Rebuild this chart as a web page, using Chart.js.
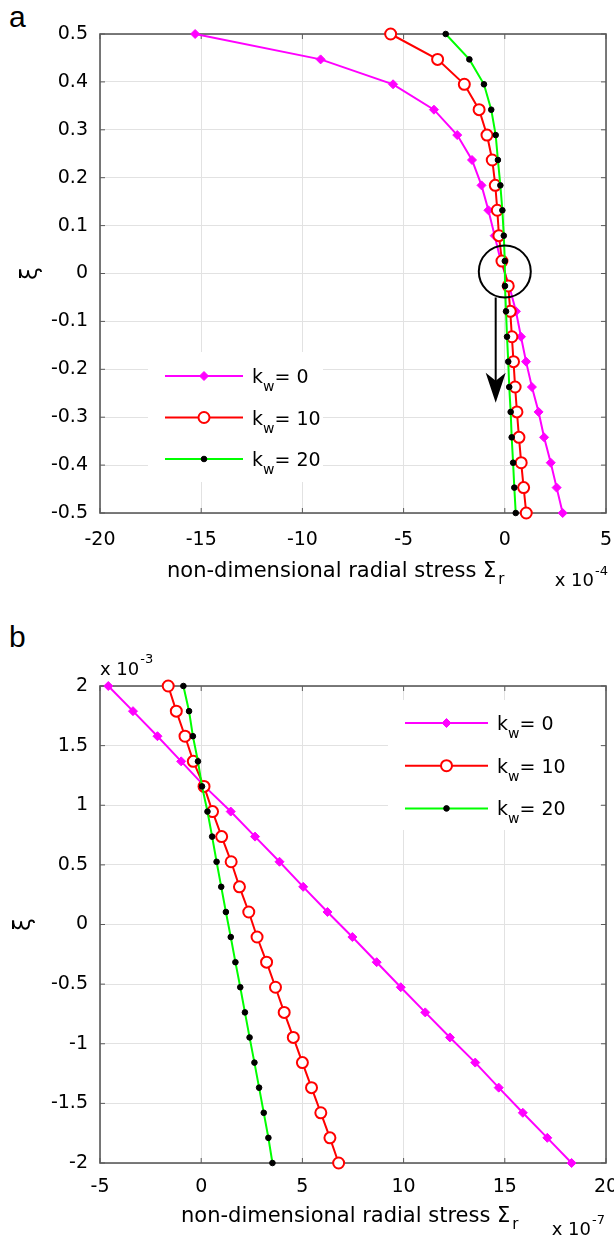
<!DOCTYPE html>
<html>
<head>
<meta charset="utf-8">
<script src="https://cdn.jsdelivr.net/npm/chart.js@4.4.1/dist/chart.umd.min.js"></script>
<style>
body { margin: 0; background: #fff; width: 614px; height: 1238px; position: relative; overflow: hidden; }
.panneau { position: absolute; left: 0; width: 614px; }
#boiteA { top: 0; height: 600px; }
#boiteB { top: 600px; height: 638px; }
.lettre { position: absolute; left: 9px; font: 30px "Liberation Sans", Arial, sans-serif; line-height: 30px; color: #000; }
</style>
</head>
<body>
<div class="lettre" style="top:2px">a</div>
<div class="lettre" style="top:622px">b</div>
<div class="panneau" id="boiteA"><canvas id="chartA"></canvas></div>
<div class="panneau" id="boiteB"><canvas id="chartB"></canvas></div>
<script>
// ---------- données ----------
// panneau a : rayon xi, contrainte radiale (x 10^-4)
var xiA = [0.5, 0.447, 0.395, 0.342, 0.289, 0.237, 0.184, 0.132, 0.079, 0.026,
           -0.026, -0.079, -0.132, -0.184, -0.237, -0.289, -0.342, -0.395, -0.447, -0.5];
var kw0A = [-15.3, -9.1, -5.52, -3.5, -2.35, -1.62, -1.15, -0.81, -0.5, -0.2,
            0.22, 0.55, 0.8, 1.05, 1.34, 1.67, 1.94, 2.27, 2.56, 2.86];
var kw10A = [-5.64, -3.32, -2.0, -1.27, -0.88, -0.62, -0.47, -0.37, -0.29, -0.14,
             0.17, 0.27, 0.35, 0.43, 0.51, 0.6, 0.7, 0.81, 0.93, 1.06];
var kw20A = [-2.92, -1.75, -1.03, -0.67, -0.45, -0.34, -0.22, -0.12, -0.05, 0.0,
             0.01, 0.06, 0.11, 0.17, 0.22, 0.29, 0.34, 0.41, 0.47, 0.54];
var xTicksA = [-20, -15, -10, -5, 0, 5];
var yTicksA = [-0.5, -0.4, -0.3, -0.2, -0.1, 0, 0.1, 0.2, 0.3, 0.4, 0.5];

// panneau b : xi (x 10^-3), contrainte radiale (x 10^-7)
var xiB = [2, 1.789, 1.579, 1.368, 1.158, 0.947, 0.737, 0.526, 0.316, 0.105,
           -0.105, -0.316, -0.526, -0.737, -0.947, -1.158, -1.368, -1.579, -1.789, -2];
var kw0B = [-4.59, -3.37, -2.16, -0.99, 0.17, 1.46, 2.66, 3.87, 5.04, 6.24,
            7.47, 8.67, 9.86, 11.07, 12.29, 13.54, 14.7, 15.89, 17.1, 18.3];
var kw10B = [-1.63, -1.23, -0.8, -0.39, 0.14, 0.56, 1.01, 1.48, 1.89, 2.35,
             2.76, 3.23, 3.67, 4.1, 4.55, 5.0, 5.45, 5.91, 6.36, 6.79];
var kw20B = [-0.88, -0.6, -0.41, -0.16, 0.04, 0.31, 0.54, 0.76, 0.99, 1.22,
             1.46, 1.69, 1.93, 2.16, 2.39, 2.63, 2.86, 3.09, 3.32, 3.52];
var xTicksB = [-5, 0, 5, 10, 15, 20];
var yTicksB = [-2, -1.5, -1, -0.5, 0, 0.5, 1, 1.5, 2];

var kwValeurs = ["0", "10", "20"];

var POLICE = '"DejaVu Sans", sans-serif';

function points(xs, ys) {
    return ys.map(function (y, i) { return { x: xs[i], y: y }; });
}

// styles des trois courbes (k_w = 0, 10, 20)
function series(s0, s10, s20, xi) {
    return [
        { label: kwValeurs[0], data: points(s0, xi), borderColor: "#ff00ff", borderWidth: 2,
          pointStyle: "rectRot", pointRadius: 4.5, pointBackgroundColor: "#ff00ff",
          pointBorderColor: "#ff00ff", pointBorderWidth: 1, order: 2 },
        { label: kwValeurs[1], data: points(s10, xi), borderColor: "#ff0000", borderWidth: 2,
          pointStyle: "circle", pointRadius: 5.5, pointBackgroundColor: "#ffffff",
          pointBorderColor: "#ff0000", pointBorderWidth: 2, order: 1 },
        { label: kwValeurs[2], data: points(s20, xi), borderColor: "#00ff00", borderWidth: 2,
          pointStyle: "circle", pointRadius: 2.8, pointBackgroundColor: "#000000",
          pointBorderColor: "#000000", pointBorderWidth: 1, order: 0 }
    ].map(function (d) {
        d.showLine = true; d.tension = 0; d.clip = false; d.pointHoverRadius = d.pointRadius;
        return d;
    });
}

// cadre complet + petites graduations vers l'intérieur
var cadre = {
    id: "cadre",
    beforeDatasetsDraw: function (chart) {
        var ctx = chart.ctx, a = chart.chartArea, sx = chart.scales.x, sy = chart.scales.y;
        ctx.save();
        ctx.strokeStyle = "#5a5a5a";
        ctx.lineWidth = 1;
        ctx.beginPath();
        sx.ticks.forEach(function (t) {
            var px = sx.getPixelForValue(t.value);
            ctx.moveTo(px, a.bottom); ctx.lineTo(px, a.bottom - 5);
            ctx.moveTo(px, a.top); ctx.lineTo(px, a.top + 5);
        });
        sy.ticks.forEach(function (t) {
            var py = sy.getPixelForValue(t.value);
            ctx.moveTo(a.left, py); ctx.lineTo(a.left + 5, py);
            ctx.moveTo(a.right, py); ctx.lineTo(a.right - 5, py);
        });
        ctx.stroke();
        ctx.lineWidth = 1.6;
        ctx.strokeRect(a.left, a.top, a.right - a.left, a.bottom - a.top);
        ctx.restore();
    }
};

function marqueur(ctx, d, x, y) {
    ctx.fillStyle = d.pointBackgroundColor;
    ctx.strokeStyle = d.pointBorderColor;
    ctx.lineWidth = d.pointBorderWidth;
    Chart.helpers.drawPoint(ctx, { pointStyle: d.pointStyle, radius: d.pointRadius,
        borderWidth: d.pointBorderWidth, rotation: 0 }, x, y);
}

// légende sans bordure, fond blanc, avec l'indice w
var legendeKw = {
    id: "legendeKw",
    afterDatasetsDraw: function (chart, args, o) {
        var ctx = chart.ctx;
        var ds = chart.data.datasets;
        ctx.save();
        ctx.fillStyle = "#ffffff";
        ctx.fillRect(o.fond[0], o.fond[1], o.fond[2], o.fond[3]);
        ds.forEach(function (d, i) {
            var y = o.y + i * o.pas;
            ctx.strokeStyle = d.borderColor;
            ctx.lineWidth = 2;
            ctx.beginPath();
            ctx.moveTo(o.x, y); ctx.lineTo(o.x + o.longueur, y);
            ctx.stroke();
            marqueur(ctx, d, o.x + o.longueur / 2, y);
            ctx.fillStyle = "#000";
            ctx.textBaseline = "alphabetic";
            ctx.textAlign = "left";
            var tx = o.x + o.longueur + 9;
            ctx.font = "19px " + POLICE;
            ctx.fillText("k", tx, y + 7);
            tx += ctx.measureText("k").width;
            ctx.font = "14px " + POLICE;
            ctx.fillText("w", tx, y + 15);
            tx += ctx.measureText("w").width;
            ctx.font = "19px " + POLICE;
            ctx.fillText("= " + d.label, tx, y + 7);
        });
        ctx.restore();
    }
};

// titre de l'axe x avec indice r et facteur d'échelle
var titreX = {
    id: "titreX",
    afterDraw: function (chart, args, o) {
        var ctx = chart.ctx, a = chart.chartArea;
        ctx.save();
        ctx.fillStyle = "#000";
        ctx.textBaseline = "alphabetic";
        ctx.textAlign = "left";
        var y = a.bottom + o.dy;
        ctx.font = o.taille + "px " + POLICE;
        ctx.fillText(o.texte, o.x, y);
        var x = o.x + ctx.measureText(o.texte).width;
        ctx.font = "15px " + POLICE;
        ctx.fillText(o.indice, x + 2, y + 7);
        ctx.font = "18px " + POLICE;
        ctx.textAlign = "right";
        ctx.fillText(o.facteur, o.xFacteur, y + o.dyFacteur);
        ctx.font = "13px " + POLICE;
        ctx.textAlign = "left";
        ctx.fillText(o.exposant, o.xFacteur + 1, y + o.dyFacteur - 11);
        ctx.restore();
    }
};

// facteur x 10^-3 au-dessus de l'axe y (panneau b)
var facteurY = {
    id: "facteurY",
    afterDraw: function (chart, args, o) {
        if (!o.facteur) return;
        var ctx = chart.ctx, a = chart.chartArea;
        ctx.save();
        ctx.fillStyle = "#000";
        ctx.textBaseline = "alphabetic";
        ctx.textAlign = "left";
        ctx.font = "18px " + POLICE;
        ctx.fillText(o.facteur, a.left, a.top - 11);
        var x = a.left + ctx.measureText(o.facteur).width;
        ctx.font = "13px " + POLICE;
        ctx.fillText(o.exposant, x + 1, a.top - 23);
        ctx.restore();
    }
};

// cercle et flèche autour de l'origine (panneau a)
var annotation = {
    id: "annotation",
    afterDatasetsDraw: function (chart, args, o) {
        if (!o.cercle) return;
        var ctx = chart.ctx, sx = chart.scales.x, sy = chart.scales.y;
        var cx = sx.getPixelForValue(o.cercle.x), cy = sy.getPixelForValue(o.cercle.y);
        ctx.save();
        ctx.strokeStyle = "#000";
        ctx.lineWidth = 2;
        ctx.beginPath();
        ctx.arc(cx, cy - 2, o.cercle.r, 0, Math.PI * 2);
        ctx.stroke();
        var fx = sx.getPixelForValue(o.fleche.x);
        var y0 = sy.getPixelForValue(o.fleche.y0), y1 = sy.getPixelForValue(o.fleche.y1);
        ctx.beginPath();
        ctx.moveTo(fx, y0); ctx.lineTo(fx, y1 - 20);
        ctx.stroke();
        ctx.fillStyle = "#000";
        ctx.beginPath();
        ctx.moveTo(fx, y1);
        ctx.lineTo(fx - 10, y1 - 30);
        ctx.lineTo(fx, y1 - 22);
        ctx.lineTo(fx + 10, y1 - 30);
        ctx.closePath();
        ctx.fill();
        ctx.restore();
    }
};

function echelles(cfg) {
    return {
        x: {
            type: "linear", min: cfg.xTicks[0], max: cfg.xTicks[cfg.xTicks.length - 1],
            afterBuildTicks: function (s) { s.ticks = cfg.xTicks.map(function (v) { return { value: v }; }); },
            afterFit: function (s) { s.height = cfg.hautX; s.paddingLeft = 0; s.paddingRight = 0; },
            grid: { color: "#e2e2e2", lineWidth: 1, drawTicks: false },
            border: { display: false },
            ticks: { color: "#000", padding: cfg.padX, font: { family: POLICE, size: 19 },
                     maxRotation: 0, callback: function (v) { return String(v); } }
        },
        y: {
            type: "linear", min: cfg.yTicks[0], max: cfg.yTicks[cfg.yTicks.length - 1],
            afterBuildTicks: function (s) { s.ticks = cfg.yTicks.map(function (v) { return { value: v }; }); },
            afterFit: function (s) { s.width = 100; s.paddingTop = 0; s.paddingBottom = 0; },
            grid: { color: "#e2e2e2", lineWidth: 1, drawTicks: false },
            border: { display: false },
            ticks: { color: "#000", padding: 12, font: { family: POLICE, size: 19 },
                     callback: function (v) { return String(v); } },
            title: { display: true, text: "ξ", color: "#000", font: { family: POLICE, size: 23 },
                     padding: { top: cfg.padTitreY, bottom: 0 } }
        }
    };
}

Chart.defaults.animation = false;

var chartA = new Chart(document.getElementById("chartA"), {
    type: "scatter",
    data: { datasets: series(kw0A, kw10A, kw20A, xiA) },
    options: {
        responsive: true, maintainAspectRatio: false,
        layout: { padding: { top: 34, right: 8, left: 0, bottom: 0 } },
        scales: echelles({ xTicks: xTicksA, yTicks: yTicksA, hautX: 87, padX: 16, padTitreY: 17 }),
        plugins: {
            legend: { display: false }, tooltip: { enabled: false },
            legendeKw: { x: 165, y: 376, pas: 41.5, longueur: 78, fond: [148, 352, 175, 130] },
            titreX: { texte: "non-dimensional radial stress Σ", indice: "r", x: 167, dy: 64, taille: 21,
                      facteur: "x 10", exposant: "-4", xFacteur: 594, dyFacteur: 9 },
            annotation: { cercle: { x: 0, y: 0, r: 26 }, fleche: { x: -0.45, y0: -0.05, y1: -0.27 } }
        }
    },
    plugins: [cadre, legendeKw, titreX, facteurY, annotation]
});

var chartB = new Chart(document.getElementById("chartB"), {
    type: "scatter",
    data: { datasets: series(kw0B, kw10B, kw20B, xiB) },
    options: {
        responsive: true, maintainAspectRatio: false,
        layout: { padding: { top: 86, right: 8, left: 0, bottom: 0 } },
        scales: echelles({ xTicks: xTicksB, yTicks: yTicksB, hautX: 75, padX: 13, padTitreY: 10 }),
        plugins: {
            legend: { display: false }, tooltip: { enabled: false },
            legendeKw: { x: 405, y: 123, pas: 42.7, longueur: 83, fond: [388, 100, 212, 130] },
            titreX: { texte: "non-dimensional radial stress Σ", indice: "r", x: 181, dy: 59, taille: 21,
                      facteur: "x 10", exposant: "-7", xFacteur: 591, dyFacteur: 13 },
            facteurY: { facteur: "x 10", exposant: "-3" }
        }
    },
    plugins: [cadre, legendeKw, titreX, facteurY, annotation]
});
</script>
</body>
</html>
